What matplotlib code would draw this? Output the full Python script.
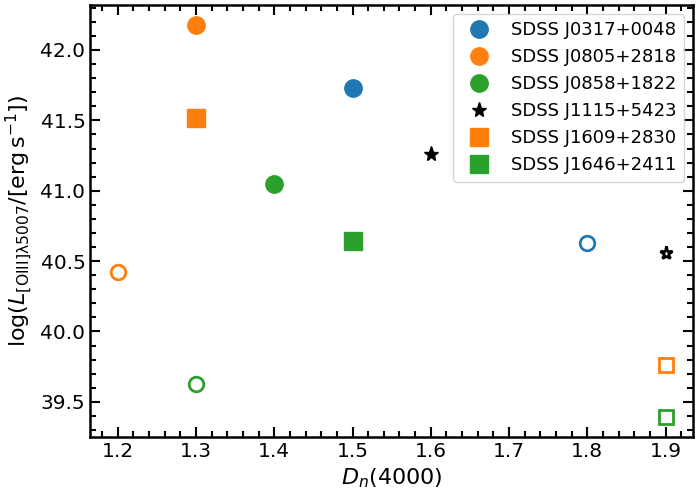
import matplotlib
matplotlib.use("Agg")
import matplotlib.pyplot as plt
from matplotlib.ticker import AutoMinorLocator

# one entry per source: name, colour, marker, filled point, open point
names = ["SDSS J0317+0048", "SDSS J0805+2818", "SDSS J0858+1822",
         "SDSS J1115+5423", "SDSS J1609+2830", "SDSS J1646+2411"]
colors = ["#1f77b4", "#ff7f0e", "#2ca02c", "black", "#ff7f0e", "#2ca02c"]
markers = ["o", "o", "o", "*", "s", "s"]

dn_filled = [1.5, 1.3, 1.4, 1.6, 1.3, 1.5]
logl_filled = [41.73, 42.18, 41.05, 41.26, 41.52, 40.64]

dn_open = [1.8, 1.2, 1.3, 1.9, 1.9, 1.9]
logl_open = [40.63, 40.42, 39.63, 40.56, 39.76, 39.39]

fig = plt.figure(figsize=(7, 5), dpi=100)
ax = fig.add_axes([0.129, 0.126, 0.861, 0.864])

for i in range(len(names)):
    ms = 12.5 if markers[i] != "*" else 11
    ax.plot(dn_filled[i], logl_filled[i], linestyle="none", marker=markers[i],
            color=colors[i], markersize=ms, label=names[i])
    # open symbols
    if markers[i] == "*":
        ax.plot(dn_open[i], logl_open[i], linestyle="none", marker="*",
                markerfacecolor="white", markeredgecolor="black",
                markeredgewidth=2, markersize=9.5)
    else:
        ax.plot(dn_open[i], logl_open[i], linestyle="none", marker=markers[i],
                markerfacecolor="white", markeredgecolor=colors[i],
                markeredgewidth=2, markersize=10.5)

ax.set_xlabel(r"$D_n(4000)$", fontsize=16)
ax.set_ylabel(r"$\log(L_{\rm [OIII]\lambda5007}/[{\rm erg\,s^{-1}}])$", fontsize=16)

ax.xaxis.set_minor_locator(AutoMinorLocator())
ax.yaxis.set_minor_locator(AutoMinorLocator())
ax.tick_params(which="both", direction="in", top=True, right=True, labelsize=14.5, width=1.5)
ax.tick_params(which="major", length=7)
ax.tick_params(which="minor", length=4)
for sp in ax.spines.values():
    sp.set_linewidth(1.8)

ax.legend(loc="upper right", fontsize=13, handletextpad=0.8, labelspacing=0.5)

fig.savefig("out.png", dpi=100)
